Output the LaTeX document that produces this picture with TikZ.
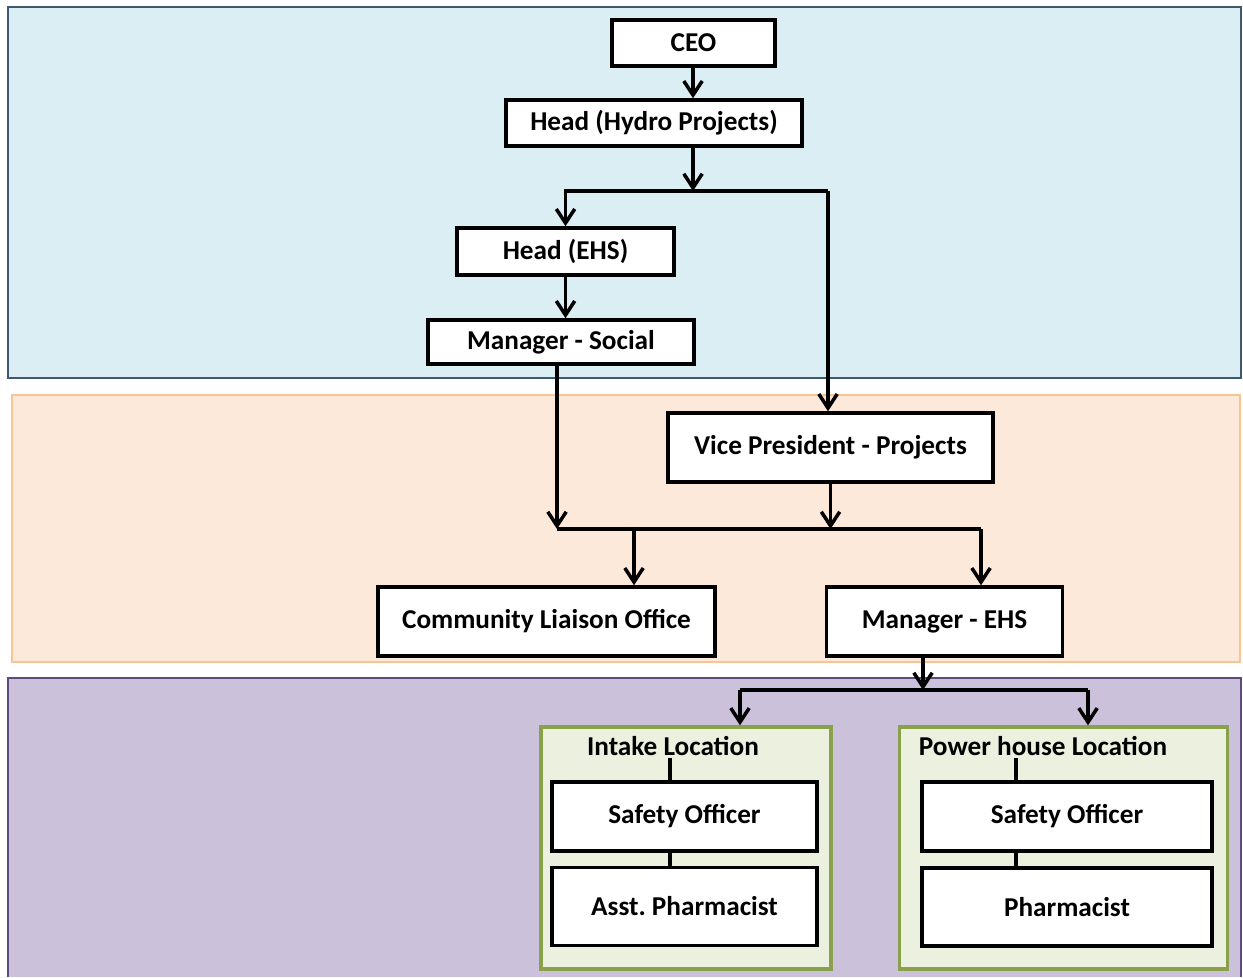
\documentclass[tikz,border=0pt]{standalone}
\usepackage{fontspec}
\setmainfont{Carlito}
\usetikzlibrary{arrows.meta}

\definecolor{bandblue}{HTML}{DBEEF4}
\definecolor{bandblueline}{HTML}{3D5A70}
\definecolor{bandorange}{HTML}{FDE9D9}
\definecolor{bandorangeline}{HTML}{F7C495}
\definecolor{bandpurple}{HTML}{CCC1DA}
\definecolor{bandpurpleline}{HTML}{5F4A80}
\definecolor{sitefill}{HTML}{EBF1DE}
\definecolor{siteline}{HTML}{8AA14C}

\tikzset{
  role/.style={draw, line width=2pt, fill=white, inner sep=0pt,
    font=\bfseries\fontsize{15.5}{18}\selectfont},
  size/.style 2 args={minimum width=#1*0.02cm, minimum height=#2*0.02cm},
  site/.style={draw=siteline, line width=1.9pt, fill=sitefill},
  link/.style={line width=2.2pt, -{Straight Barb[length=8pt,width=10.5pt,line width=2pt]}},
  tie/.style={line width=2.2pt}
}

\begin{document}
\frenchspacing
\begin{tikzpicture}[x=0.02cm, y=-0.02cm]
    \path [use as bounding box] (0,0) rectangle (1243,977);

    % the three bands
    \draw[bandblueline, fill=bandblue, line width=1.6pt] (8,7) rectangle (1241,378);
    \draw[bandorangeline, fill=bandorange, line width=1.2pt] (12,395) rectangle (1240,662);
    \fill[bandpurple] (8,678) rectangle (1241,977);
    \draw[bandpurpleline, line width=1.6pt] (8,977) -- (8,678) -- (1241,678) -- (1241,977);

    \node[role, size={163}{46}] (ceo) at (693.5,43) {CEO};
    \node[role, size={296}{46}] (hydro) at (654,123) {Head (Hydro Projects)};
    \node[role, size={217}{47}] (ehs) at (565.5,251.5) {Head (EHS)};
    \node[role, size={266}{44}] (social) at (561,342) {Manager - Social};
    \node[role, size={325}{69}] (vp) at (830.5,447.5) {Vice President - Projects};
    \node[role, size={337}{69}] (clo) at (546.5,621.5) {Community Liaison Office};
    \node[role, size={236}{69}] (mehs) at (944.5,621.5) {Manager - EHS};

    % site boxes
    \node[site, size={290}{242}] (intake) at (686,848) {};
    \node[site, size={328}{242}] (power) at (1063.5,848) {};
    \node[font=\bfseries\fontsize{15.5}{18}\selectfont, inner sep=1pt] (intakelbl) at (673,746) {Intake Location};
    \node[font=\bfseries\fontsize{15.5}{18}\selectfont, inner sep=1pt] (powerlbl) at (1043,746) {Power house Location};
    \node[role, size={265}{69}] (so1) at (684.5,816.5) {Safety Officer};
    \node[role, size={265}{78}] (asst) at (684.5,906.5) {Asst. Pharmacist};
    \node[role, size={290}{69}] (so2) at (1067,816.5) {Safety Officer};
    \node[role, size={290}{78}] (pharm) at (1067,907) {Pharmacist};

    \coordinate (j1) at (693,191);
    \coordinate (j1r) at (828,191);
    \coordinate (j2) at (557,529);
    \coordinate (j2m) at (634,529);
    \coordinate (j2r) at (981,529);
    \coordinate (j3) at (923,690);
    \coordinate (j3l) at (740,690);
    \coordinate (j3r) at (1088,690);
    \coordinate (t1) at (670,0);
    \coordinate (t2) at (1016,0);

    \draw[link] (ceo.south -| j1) -- (j1 |- hydro.north);
    \draw[link] (hydro.south -| j1) -- (j1);
    \draw[link] (j1r) -- (j1 -| ehs.north) -- (ehs.north);
    \draw[link] (j1r) -- (j1r |- vp.north);
    \draw[link] (ehs.south) -- (ehs.south |- social.north);
    \draw[link] (social.south -| j2) -- (j2);
    \draw[link] (vp.south) -- (vp.south |- j2);
    \draw[tie] (j2) -- (j2r);
    \draw[link] (j2m) -- (j2m |- clo.north);
    \draw[link] (j2r) -- (j2r |- mehs.north);
    \draw[link] (mehs.south -| j3) -- (j3);
    \draw[tie] (j3l) -- (j3r);
    \draw[link] (j3l) -- (j3l |- intake.north);
    \draw[link] (j3r) -- (j3r |- power.north);

    \draw[tie] (intakelbl.south -| t1) -- (so1.north -| t1);
    \draw[tie] (so1.south -| t1) -- (asst.north -| t1);
    \draw[tie] (powerlbl.south -| t2) -- (so2.north -| t2);
    \draw[tie] (so2.south -| t2) -- (pharm.north -| t2);
\end{tikzpicture}
\end{document}
